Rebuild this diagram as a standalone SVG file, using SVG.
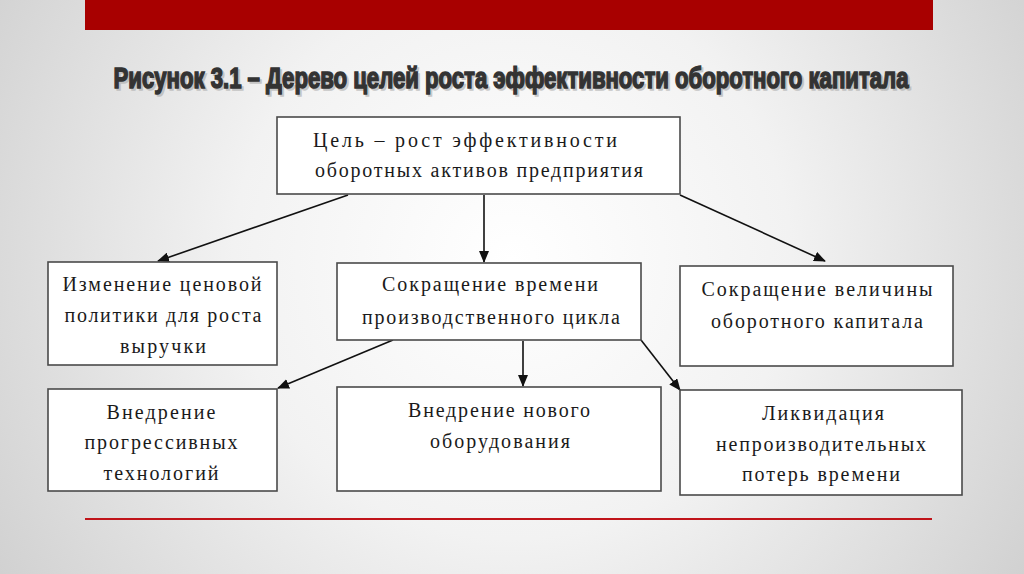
<svg xmlns="http://www.w3.org/2000/svg" width="1024" height="574" viewBox="0 0 1024 574">
<defs>
<radialGradient id="bg" cx="512" cy="260" r="620" gradientUnits="userSpaceOnUse">
<stop offset="0" stop-color="#ffffff"/>
<stop offset="0.45" stop-color="#f2f2f2"/>
<stop offset="1" stop-color="#cfcfcf"/>
</radialGradient>
<marker id="ah" markerWidth="12" markerHeight="10" refX="11" refY="5" orient="auto" markerUnits="userSpaceOnUse">
<path d="M0,0 L12,5 L0,10 Z" fill="#111"/>
</marker>
</defs>
<style>
.box{fill:#ffffff;stroke:#4a4a4a;stroke-width:1.6}
.t{font-size:20px;fill:#1a1a1a;text-anchor:middle}
.c{stroke:#111;stroke-width:1.6;fill:none;marker-end:url(#ah)}
.title{font-weight:bold;font-size:29px;text-anchor:middle}
</style>
<rect width="1024" height="574" fill="url(#bg)"/>
<rect x="85" y="0" width="848" height="30" fill="#a80000"/>
<line x1="85" y1="519" x2="932" y2="519" stroke="#c0141a" stroke-width="2.2"/>
<g font-family="'Liberation Sans', Arial, sans-serif">
<text class="title" transform="translate(513,90) scale(0.72,1)" x="0" y="0" textLength="1104" lengthAdjust="spacingAndGlyphs" fill="#aaaaaa" stroke="#aaaaaa" stroke-width="1.5" opacity="0.6">Рисунок 3.1 – Дерево целей роста эффективности оборотного капитала</text>
<text class="title" transform="translate(511,88) scale(0.72,1)" x="0" y="0" textLength="1104" lengthAdjust="spacingAndGlyphs" fill="#333333" stroke="#333333" stroke-width="1.5">Рисунок 3.1 – Дерево целей роста эффективности оборотного капитала</text>
</g>

<g id="connectors">
<line class="c" x1="348" y1="195" x2="158" y2="261"/>
<line class="c" x1="484" y1="195" x2="484" y2="262"/>
<line class="c" x1="680" y1="195" x2="825" y2="261"/>
<line class="c" x1="393" y1="340" x2="278" y2="388"/>
<line class="c" x1="523" y1="341" x2="523" y2="386"/>
<line class="c" x1="641" y1="340" x2="680" y2="390"/>
</g>

<g font-family="'Liberation Serif', 'Times New Roman', serif">
<g id="goal">
<rect class="box" x="277" y="117" width="403" height="77"/>
<text class="t" x="465" y="147" textLength="304">Цель – рост эффективности</text>
<text class="t" x="479" y="177" textLength="328">оборотных активов предприятия</text>
</g>
<g id="price">
<rect class="box" x="48" y="262" width="229" height="103"/>
<text class="t" x="162" y="291" textLength="199">Изменение ценовой</text>
<text class="t" x="163" y="322" textLength="197">политики для роста</text>
<text class="t" x="163" y="353" textLength="86">выручки</text>
</g>
<g id="time">
<rect class="box" x="337" y="263" width="304" height="77"/>
<text class="t" x="490" y="291" textLength="216">Сокращение времени</text>
<text class="t" x="491" y="324" textLength="258">производственного цикла</text>
</g>
<g id="capital">
<rect class="box" x="680" y="266" width="273" height="100"/>
<text class="t" x="817" y="296" textLength="231">Сокращение величины</text>
<text class="t" x="817" y="328" textLength="212">оборотного капитала</text>
</g>
<g id="tech">
<rect class="box" x="48" y="389" width="229" height="102"/>
<text class="t" x="161" y="419" textLength="109">Внедрение</text>
<text class="t" x="161" y="449" textLength="153">прогрессивных</text>
<text class="t" x="161" y="480" textLength="115">технологий</text>
</g>
<g id="equipment">
<rect class="box" x="337" y="387" width="324" height="104"/>
<text class="t" x="499" y="417" textLength="182">Внедрение нового</text>
<text class="t" x="500" y="448" textLength="140">оборудования</text>
</g>
<g id="losses">
<rect class="box" x="680" y="390" width="282" height="105"/>
<text class="t" x="823" y="420" textLength="122">Ликвидация</text>
<text class="t" x="821" y="451" textLength="210">непроизводительных</text>
<text class="t" x="821" y="481" textLength="158">потерь времени</text>
</g>
</g>
</svg>
